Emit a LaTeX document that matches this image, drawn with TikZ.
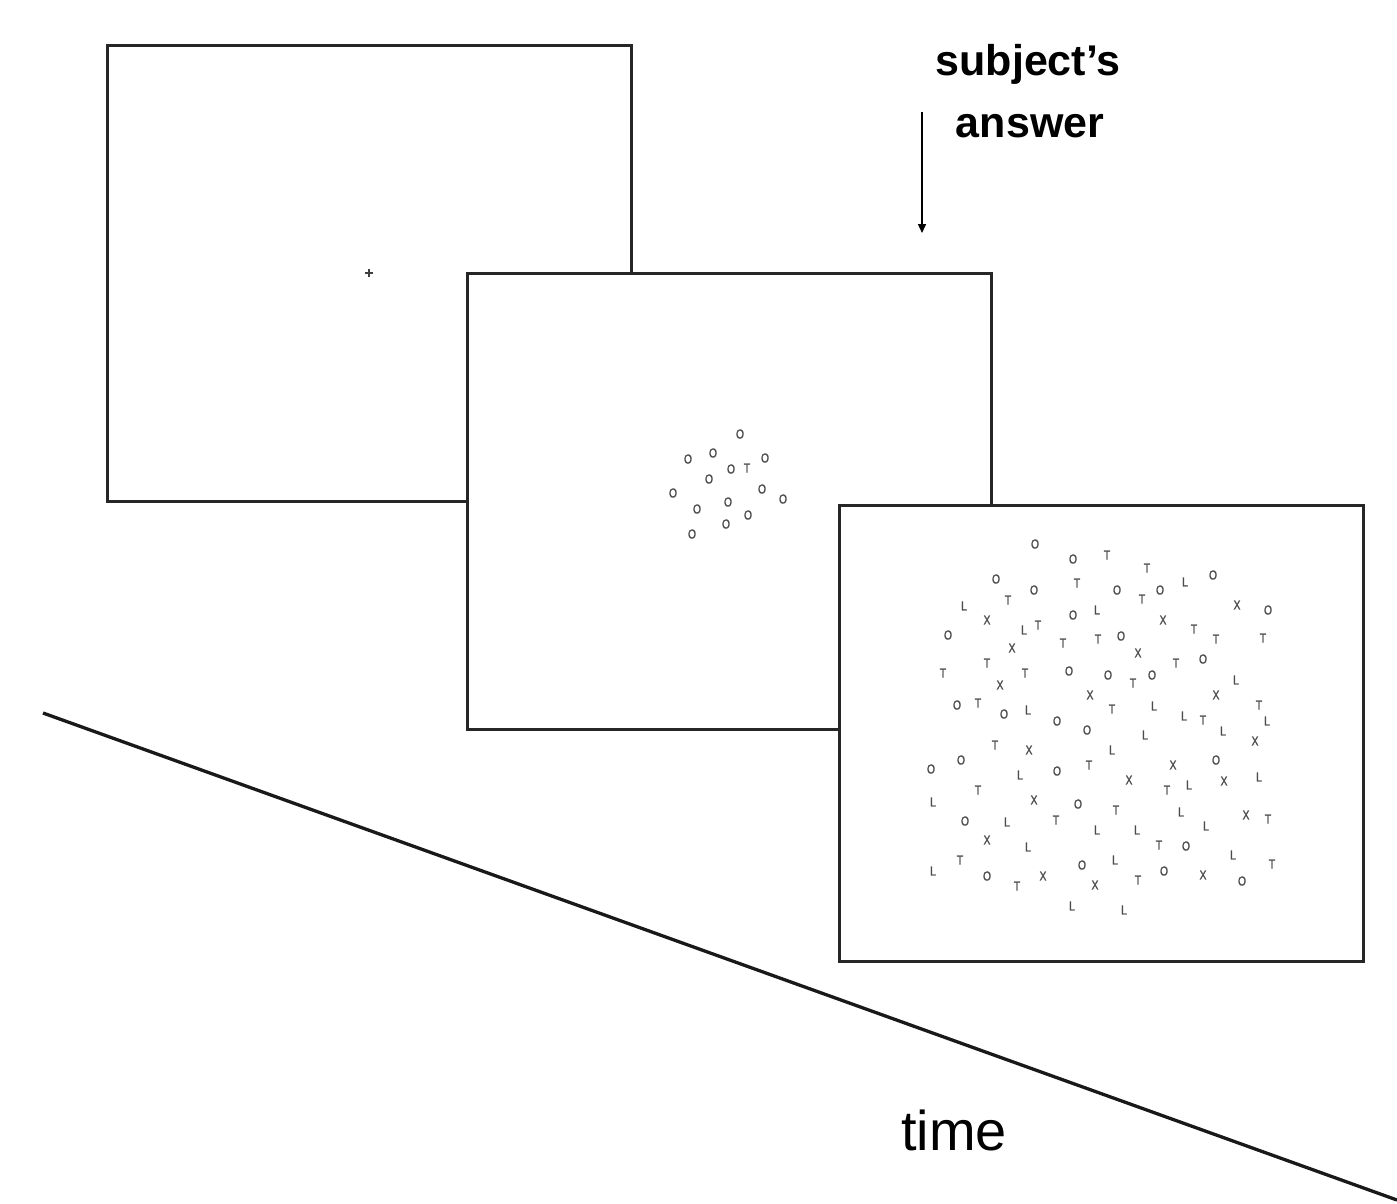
\documentclass[tikz,border=0pt]{standalone}
\usepackage{fontspec}
\setmainfont{Liberation Sans}
\newfontfamily\ltrfont[FakeStretch=0.8,FakeBold=1.2]{Liberation Sans}
\usetikzlibrary{arrows.meta}
\tikzset{
  screen/.style={draw=black!85, line width=3pt, fill=white, minimum width=524pt,
    minimum height=456pt, inner sep=0pt, outer sep=0pt},
  ltr/.style={inner sep=0pt, text=black!70, font=\ltrfont\fontsize{13}{14}\selectfont},
  caption/.style={inner sep=0pt, text=black, anchor=base},
  labelfont/.style={font=\bfseries\fontsize{43}{50}\selectfont},
}
\begin{document}
\begin{tikzpicture}[x=1pt,y=-1pt]
\useasboundingbox (0,0) rectangle (1397,1203);
\fill[white] (0,0) rectangle (1397,1203);

% time axis
\coordinate (t0) at (43,713);
\coordinate (t1) at (1397,1200);
\draw[line width=3.3pt, black!90] (t0) -- (t1);
\node[caption, font=\fontsize{56}{60}\selectfont] (time) at (954,1150) {time};

% response label and marker
\node[caption, labelfont] (ans1) at (1028,75) {subject’s};
\node[caption, labelfont] (ans2) at (1030,137) {answer};
\coordinate (a0) at (922,112);
\coordinate (a1) at (922,233);
\draw[line width=1.6pt, -{Triangle[length=9pt,width=8pt]}] (a0) -- (a1);

% fixation screen
\node[screen] (p1) at (369,273) {};
\draw[line width=1.8pt, black!75] (365,273) -- (373,273) (369,269) -- (369,277);

% cue screen
\node[screen] (p2) at (729,501.5) {};
\foreach \x/\y/\c [count=\i] in {
  740/434/O, 688/459/O, 713/453/O, 765/458/O, 731/469/O, 747/468/T, 709/479/O,
  762/489/O, 673/493/O, 783/499/O, 728/502/O, 697/509/O, 748/515/O, 726/524/O, 692/534/O}
  \node[ltr] (c\i) at (\x,\y) {\c};

% search screen
\node[screen] (p3) at (1101.5,733) {};
\foreach \x/\y/\c [count=\i] in {
  1035/544/O, 1073/559/O, 1107/555/T, 1147/568/T, 996/579/O, 1077/583/T,
  1034/590/O, 1117/590/O, 1142/599/T, 1160/590/O, 1185/582/L, 1213/575/O,
  1008/600/T, 964/606/L, 987/620/X, 1073/615/O, 1097/610/L, 1163/620/X,
  1237/605/X, 1268/610/O, 1024/630/L, 1038/625/T, 948/635/O, 1012/648/X,
  1063/643/T, 1098/639/T, 1121/636/O, 1194/629/T, 1216/639/T, 1263/638/T,
  1138/653/X, 1176/663/T, 1203/659/O, 987/663/T, 943/673/T, 1025/673/T,
  1069/671/O, 1108/675/O, 1133/683/T, 1152/675/O, 1236/680/L, 1000/685/X,
  1090/695/X, 1216/695/X, 957/705/O, 978/703/T, 1259/705/T, 1004/714/O,
  1028/710/L, 1112/709/T, 1154/706/L, 1184/716/L, 1203/720/T, 1267/721/L,
  1057/721/O, 1087/730/O, 1223/731/L, 1145/735/L, 1255/741/X, 995/745/T,
  1029/750/X, 1112/750/L, 961/760/O, 931/769/O, 1020/775/L, 1057/771/O,
  1089/765/T, 1173/765/X, 1216/760/O, 1259/777/L, 1129/780/X, 1167/790/T,
  1189/785/L, 1224/781/X, 978/790/T, 933/802/L, 1034/800/X, 1078/804/O,
  1116/810/T, 1181/812/L, 1246/815/X, 1268/819/T, 965/821/O, 1007/822/L,
  1056/820/T, 1097/830/L, 1137/830/L, 1206/826/L, 987/840/X, 1028/847/L,
  1159/845/T, 1186/846/O, 1233/855/L, 960/860/T, 1115/860/L, 1272/864/T,
  933/871/L, 987/876/O, 1043/876/X, 1082/865/O, 1164/871/O, 1203/875/X,
  1242/881/O, 1138/880/T, 1017/886/T, 1095/885/X, 1072/906/L, 1124/910/L}
  \node[ltr] (s\i) at (\x,\y) {\c};
\end{tikzpicture}
\end{document}
